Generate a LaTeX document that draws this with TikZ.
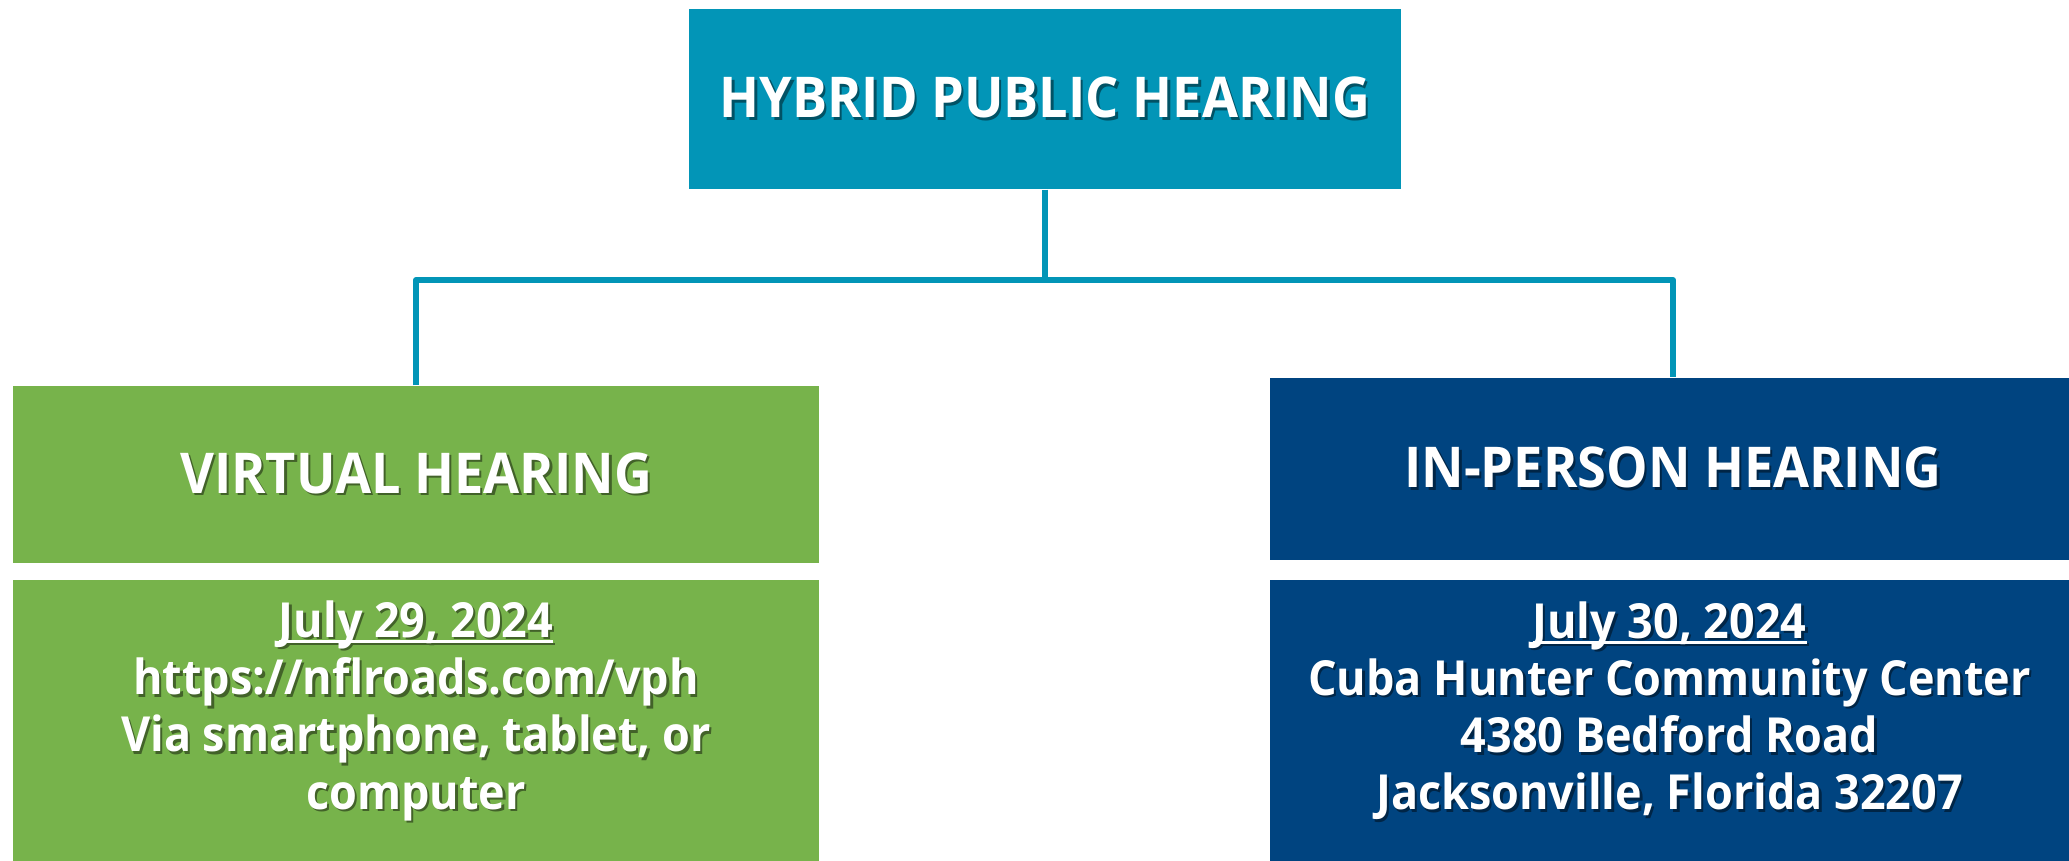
\documentclass[tikz,border=0pt]{standalone}
\usepackage{fontspec}
\setmainfont{Open Sans}[FakeStretch=0.93]
\definecolor{hybridteal}{RGB}{2,149,183}
\definecolor{virtgreen}{RGB}{119,179,75}
\definecolor{persblue}{RGB}{0,68,128}
\newcommand\sh[1]{\leavevmode\rlap{\kern0.7pt\raisebox{-0.7pt}{\textcolor{txtshadow}{#1}}}#1}
\newcommand\ulin[1]{\setbox0\hbox{#1}\rlap{\rule[-1.6pt]{\wd0}{0.8pt}}\box0}
\tikzset{
  shadowed/.style={execute at begin node={\colorlet{txtshadow}{#1!55!black}}},
  head/.style={text=white, font=\bfseries\fontsize{16}{19}\selectfont, inner sep=0pt},
  body/.style={inner sep=0pt, minimum width=#1},
  bodytext/.style={text=white, align=center, inner sep=0pt,
    font=\bfseries\fontsize{13.75}{16.3}\selectfont}
}
\begin{document}
\begin{tikzpicture}
  \useasboundingbox (0,0) rectangle (20.69,-8.61);
  \node[head, fill=hybridteal, shadowed=hybridteal, minimum width=7.12cm, minimum height=1.80cm]
    (hybrid) at (10.45,-0.99) {\sh{HYBRID PUBLIC HEARING}};
  \node[head, fill=virtgreen, shadowed=virtgreen, minimum width=8.06cm, minimum height=1.77cm]
    (virtual) at (4.16,-4.745) {\sh{VIRTUAL HEARING}};
  \node[head, fill=persblue, shadowed=persblue, minimum width=8.06cm, minimum height=1.82cm]
    (inperson) at (16.73,-4.69) {\sh{IN-PERSON HEARING}};
  \node[body=8.06cm, fill=virtgreen, minimum height=3.0cm] (vbox) at (4.16,-7.30) {};
  \node[body=8.06cm, fill=persblue, minimum height=3.0cm] (pbox) at (16.73,-7.30) {};
  \node[bodytext, shadowed=virtgreen] (vtext) at (vbox.center |- 0,-7.12)
    {\sh{\ulin{July 29, 2024}}\\ \sh{https://nflroads.com/vph}\\
     \sh{Via smartphone, tablet, or}\\ \sh{computer}};
  \node[bodytext, shadowed=persblue] (ptext) at (16.695,-7.12)
    {\sh{\ulin{July 30, 2024}}\\ \sh{Cuba Hunter Community Center}\\
     \sh{4380 Bedford Road}\\ \sh{Jacksonville, Florida 32207}};
  \coordinate (fork) at (10.45,-2.80);
  \begin{scope}[hybridteal, line width=1.7pt, line join=round]
    \draw (hybrid) -- (fork);
    \draw (virtual) |- (fork) -| (inperson);
  \end{scope}
\end{tikzpicture}
\end{document}
